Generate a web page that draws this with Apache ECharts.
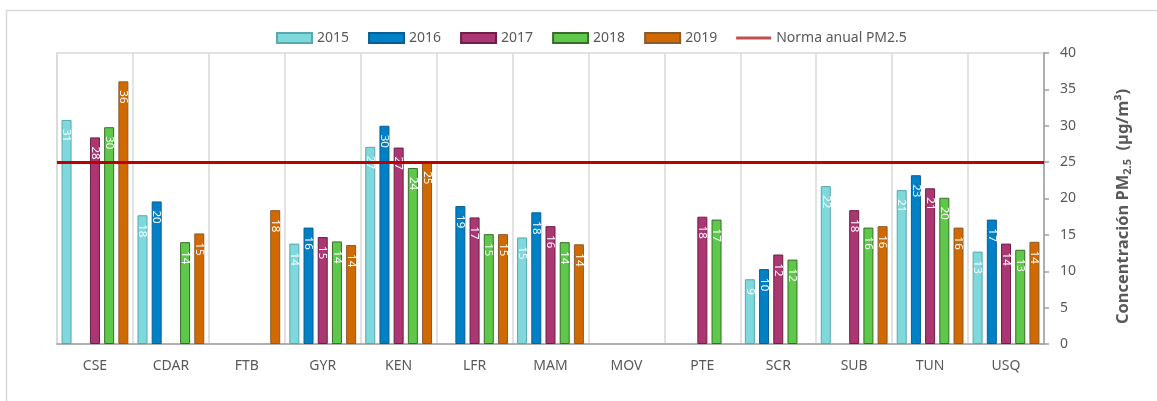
<!DOCTYPE html>
<html>
<head>
<meta charset="utf-8">
<script src="https://cdn.jsdelivr.net/npm/echarts@6/dist/echarts.min.js"></script>
<style>
  * { margin: 0; padding: 0; }
  html, body { width: 1157px; height: 401px; background: #fff; }
  #chart { width: 1157px; height: 401px; }
</style>
</head>
<body>
<div id="chart"></div>
<script>
// estaciones
const stations = ['CSE', 'CDAR', 'FTB', 'GYR', 'KEN', 'LFR', 'MAM', 'MOV', 'PTE', 'SCR', 'SUB', 'TUN', 'USQ']

// PM2.5 anual por año (null = sin dato)
const y2015 = [30.8, 17.7, null, 13.8, 27.1, null, 14.65, null, null, 8.9, 21.7, 21.15, 12.7]
const y2016 = [null, 19.6, null, 16.0, 30.0, 18.96, 18.1, null, null, 10.3, null, 23.2, 17.1]
const y2017 = [28.4, null, null, 14.7, 27.0, 17.4, 16.2, null, 17.5, 12.3, 18.4, 21.4, 13.8]
const y2018 = [29.8, 14.0, null, 14.1, 24.2, 15.1, 14.0, null, 17.1, 11.6, 16.0, 20.1, 12.95]
const y2019 = [36.1, 15.2, 18.4, 13.6, 25.0, 15.1, 13.7, null, null, null, 16.2, 16.0, 14.05]

const normaAnual = 25
const yTicks = { min: 0, max: 40, interval: 5 }

const years = [
  { name: '2015', data: y2015, color: '#7fd8dc', border: '#56a9ad' },
  { name: '2016', data: y2016, color: '#0080c5', border: '#0b5e93' },
  { name: '2017', data: y2017, color: '#aa3672', border: '#6e1e48' },
  { name: '2018', data: y2018, color: '#5ec84b', border: '#3a6b2a' },
  { name: '2019', data: y2019, color: '#d06a00', border: '#8a5a30' },
]
const normaName = 'Norma anual PM2.5'

const txt = '#595959'
const font = 'Noto Sans'

// icono de leyenda: linea fina centrada (los M extra fijan la caja 35x10)
const lineIcon = 'path://M0,0 M35,10 M0,3.5 L35,3.5 L35,6.5 L0,6.5 Z'

const barSeries = years.map(y => {
  return {
    name: y.name,
    type: 'bar',
    data: y.data,
    barWidth: 10,
    barGap: '42%',
    itemStyle: {
      color: y.color,
      borderColor: y.border,
      borderWidth: 1,
    },
    label: {
      show: true,
      position: 'insideTop',
      rotate: -90,
      align: 'left',
      verticalAlign: 'middle',
      distance: 9,
      color: '#fff',
      fontSize: 11.5,
      fontFamily: font,
      formatter: (p) => Math.round(p.value),
    },
  }
})

const chart = echarts.init(document.getElementById('chart'))
chart.setOption({
  animation: false,
  textStyle: { fontFamily: font },
  graphic: [
    {
      type: 'rect',
      shape: { x: 6.5, y: 10.5, width: 1200, height: 500 },
      style: { fill: 'none', stroke: '#d9d9d9', lineWidth: 1.5 },
      silent: true,
    },
  ],
  legend: {
    left: 276,
    top: 31,
    padding: 0,
    itemWidth: 35,
    itemHeight: 10,
    itemGap: 19,
    textStyle: { color: txt, fontSize: 14, fontFamily: font },
    data: [
      ...years.map(y => ({ name: y.name, icon: 'rect' })),
      { name: normaName, icon: lineIcon, itemStyle: { color: '#c0504d', borderWidth: 0 } },
    ],
  },
  grid: {
    left: 57,
    right: 113,
    top: 53,
    bottom: 57,
    show: true,
    borderColor: '#d9d9d9',
    borderWidth: 1.5,
  },
  xAxis: {
    type: 'category',
    data: stations,
    axisLine: { lineStyle: { color: '#a0a0a0', width: 1.5 } },
    axisTick: { length: 5, lineStyle: { color: '#a0a0a0', width: 1.5 } },
    axisLabel: { color: txt, fontSize: 14, margin: 15 },
    splitLine: { show: true, lineStyle: { color: '#d9d9d9', width: 1.5 } },
  },
  yAxis: {
    type: 'value',
    position: 'right',
    min: yTicks.min,
    max: yTicks.max,
    interval: yTicks.interval,
    axisLine: { show: true, lineStyle: { color: '#a0a0a0', width: 1.5 } },
    axisTick: { show: true, length: 5, lineStyle: { color: '#a0a0a0', width: 1.5 } },
    axisLabel: { color: txt, fontSize: 14, margin: 16 },
    splitLine: { show: false },
    name: 'Concentración PM{sub|2.5}  (µg/m³)',
    nameLocation: 'middle',
    nameRotate: 90,
    nameGap: 70,
    nameTextStyle: {
      color: txt,
      fontSize: 16.5,
      fontWeight: 'bold',
      padding: [0, 16, 0, 0],
      rich: {
        sub: { fontSize: 11, fontWeight: 'bold', color: txt, padding: [8, 0, 0, 0] },
      },
    },
  },
  series: [
    ...barSeries,
    {
      name: normaName,
      type: 'line',
      data: [],
      symbol: 'none',
      color: '#c0504d',
      lineStyle: { color: '#c0504d', width: 3 },
      markLine: {
        silent: true,
        symbol: 'none',
        label: { show: false },
        lineStyle: { color: '#c00000', width: 3, type: 'solid' },
        data: [{ yAxis: normaAnual }],
      },
    },
  ],
})
</script>
</body>
</html>
